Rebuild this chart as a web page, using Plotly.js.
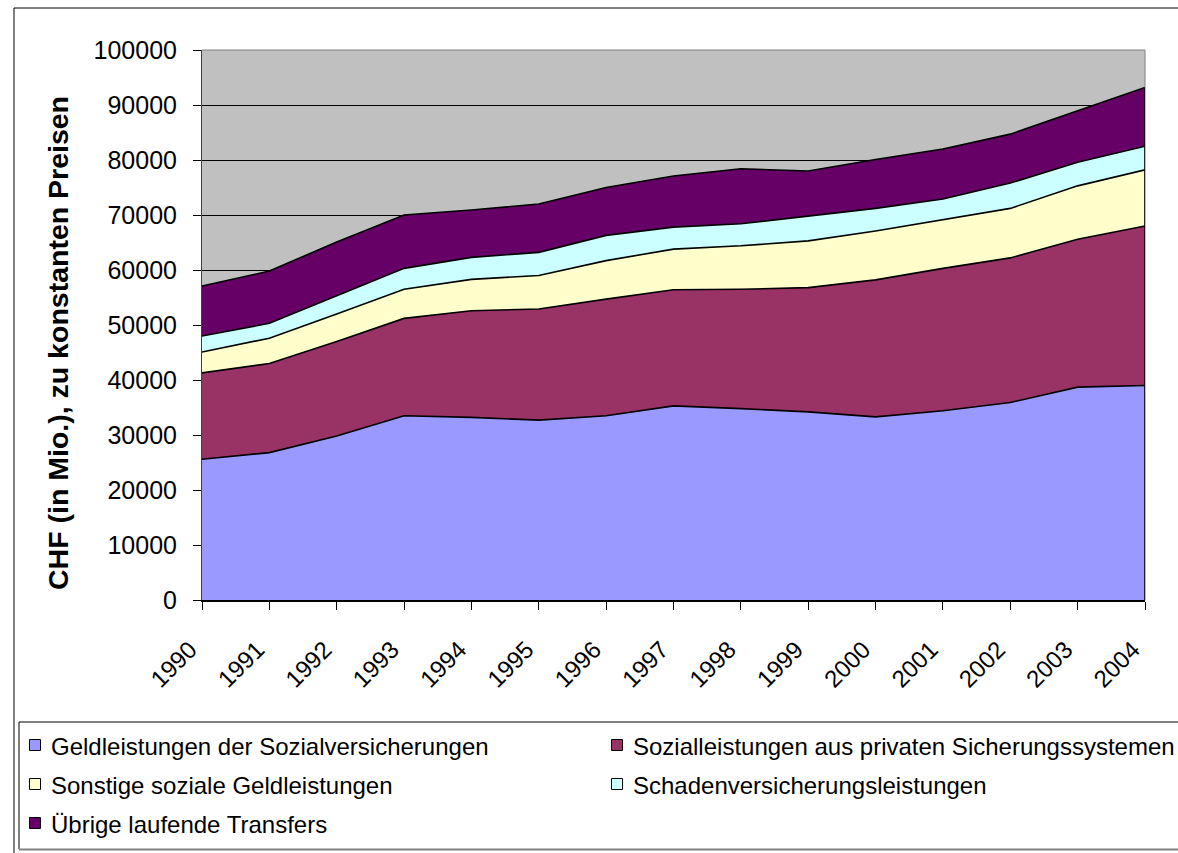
<!DOCTYPE html>
<html>
<head>
<meta charset="utf-8">
<script src="https://cdn.plot.ly/plotly-3.0.1.min.js"></script>
<style>
  html, body { margin: 0; padding: 0; background: #ffffff; overflow: hidden; }
  #chart { width: 1178px; height: 853px; }
</style>
</head>
<body>
<div id="chart"></div>
<script>
// ---- data (CHF Mio.) ----
var years = [1990, 1991, 1992, 1993, 1994, 1995, 1996, 1997, 1998, 1999, 2000, 2001, 2002, 2003, 2004];
var geldleistungen = [25600, 26800, 29800, 33500, 33200, 32700, 33500, 35300, 34800, 34200, 33300, 34400, 35900, 38700, 39000];
var privateSicherung = [15700, 16200, 17200, 17700, 19400, 20200, 21200, 21100, 21700, 22600, 24900, 25900, 26300, 26900, 29000];
var sonstige = [3800, 4600, 5000, 5300, 5700, 6100, 7000, 7400, 7900, 8500, 8900, 8900, 9000, 9700, 10200];
var schaden = [2900, 2700, 3300, 3800, 4000, 4200, 4600, 4000, 4000, 4500, 4100, 3700, 4600, 4300, 4300];
var uebrige = [9100, 9500, 9800, 9700, 8600, 8800, 8700, 9300, 10000, 8200, 8900, 9100, 8900, 9400, 10700];

var seriesNames = [
  "Geldleistungen der Sozialversicherungen",
  "Sozialleistungen aus privaten Sicherungssystemen",
  "Sonstige soziale Geldleistungen",
  "Schadenversicherungsleistungen",
  "Übrige laufende Transfers"
];
var seriesValues = [geldleistungen, privateSicherung, sonstige, schaden, uebrige];
var seriesColors = ["#9999FF", "#993366", "#FFFFCC", "#CCFFFF", "#660066"];
var yTickVals = [0, 10000, 20000, 30000, 40000, 50000, 60000, 70000, 80000, 90000, 100000];
var yTitle = "CHF (in Mio.), zu konstanten Preisen";

var FONT = "Liberation Sans, Arial, Helvetica, sans-serif";

// plot area in pixels
var W = 1178, H = 853;
var L = 202, R = 1145, T = 50, B = 600;
function px(x) { return (x - L) / (R - L); }
function py(y) { return (B - y) / (B - T); }

var traces = [];
// filled stacked areas (no outline)
for (var i = 0; i < seriesValues.length; i++) {
  traces.push({
    type: "scatter", mode: "lines", x: years, y: seriesValues[i],
    stackgroup: "fill", fill: "tonexty", fillcolor: seriesColors[i],
    line: { width: 0, color: seriesColors[i] },
    name: seriesNames[i], showlegend: false, hoverinfo: "skip"
  });
}
// black outlines on top of the fills
for (var j = 0; j < seriesValues.length; j++) {
  traces.push({
    type: "scatter", mode: "lines", x: years, y: seriesValues[j],
    stackgroup: "outline", fill: "none",
    line: { width: 1.6, color: "#000000" },
    name: seriesNames[j], showlegend: false,
    hovertemplate: "%{x}: %{y}<extra>" + seriesNames[j] + "</extra>"
  });
}

var lastIdx = years.length - 1;
var lastTotal = 0;
for (var m = 0; m < seriesValues.length; m++) { lastTotal += seriesValues[m][lastIdx]; }

function pline(x0, y0, x1, y1, color, width) {
  return { type: "line", xref: "paper", yref: "paper",
    x0: px(x0), x1: px(x1), y0: py(y0), y1: py(y1),
    line: { color: color, width: width }, layer: "above" };
}

var shapes = [
  // outer chart frame (top and left edges; it runs off the picture to the right and bottom)
  pline(14, 8, 1178, 8, "#000000", 1),
  pline(14, 8, 14, 853, "#000000", 1),
  // legend box (top, left, shaded bottom)
  pline(19, 722, 1178, 722, "#000000", 1),
  pline(19, 722, 19, 849, "#000000", 1),
  pline(19, 849.5, 1178, 849.5, "#808080", 2),
  // plot-area frame top and right
  { type: "line", xref: "paper", yref: "paper", x0: 0, x1: 1, y0: 1, y1: 1,
    line: { color: "#808080", width: 1 }, layer: "above" },
  { type: "line", xref: "paper", yref: "paper", x0: 1, x1: 1, y0: 0, y1: 1,
    line: { color: "#808080", width: 1 }, layer: "above" },
  // right edge outline of the stacked areas
  { type: "line", xref: "x", yref: "y", x0: years[lastIdx], x1: years[lastIdx], y0: 0, y1: lastTotal,
    line: { color: "#000000", width: 1.6 }, layer: "above" }
];

var annotations = [{
  text: "<b>" + yTitle + "</b>",
  xref: "paper", yref: "paper", x: px(58), y: py(343),
  xanchor: "center", yanchor: "middle", textangle: -90, showarrow: false,
  font: { family: FONT, size: 28.5, color: "#000000" }
}];

// legend: two columns, swatch + label
var legendCol = [0, 1, 0, 1, 0];
var legendRow = [0, 0, 1, 1, 2];
var colSwatchX = [35, 617];
var rowY = [745, 784, 823];
var sw = 11;
for (var n = 0; n < seriesNames.length; n++) {
  var cx = colSwatchX[legendCol[n]], cy = rowY[legendRow[n]];
  shapes.push({
    type: "rect", xref: "paper", yref: "paper",
    x0: px(cx - sw / 2), x1: px(cx + sw / 2), y0: py(cy + sw / 2), y1: py(cy - sw / 2),
    fillcolor: seriesColors[n], line: { color: "#000000", width: 1 }, layer: "above"
  });
  annotations.push({
    text: seriesNames[n], xref: "paper", yref: "paper",
    x: px(cx + 14), y: py(cy + 1), xanchor: "left", yanchor: "middle", showarrow: false,
    font: { family: FONT, size: 24, color: "#000000" }
  });
}

var layout = {
  width: W, height: H,
  margin: { l: L, r: W - R, t: T, b: H - B, pad: 0 },
  paper_bgcolor: "#ffffff",
  plot_bgcolor: "#C0C0C0",
  font: { family: FONT, size: 24, color: "#000000" },
  showlegend: false,
  xaxis: {
    type: "linear", range: [years[0], years[lastIdx]],
    tickmode: "array", tickvals: years, ticktext: years.map(String),
    tickangle: -45, tickfont: { family: FONT, size: 24, color: "#000000" },
    ticks: "outside", ticklen: 8, tickcolor: "#000000", tickwidth: 1,
    ticklabelstandoff: 16, ticklabelshift: -12,
    showgrid: false, zeroline: false,
    showline: true, linecolor: "#000000", linewidth: 2,
    fixedrange: true
  },
  yaxis: {
    range: [0, 100000], tickmode: "array", tickvals: yTickVals,
    ticktext: yTickVals.map(String),
    tickfont: { family: FONT, size: 25, color: "#000000" },
    ticks: "outside", ticklen: 8, tickcolor: "#000000", tickwidth: 1,
    ticklabelstandoff: 11,
    showgrid: true, gridcolor: "#000000", gridwidth: 1,
    zeroline: false, showline: true, linecolor: "#404040", linewidth: 1,
    fixedrange: true
  },
  annotations: annotations,
  shapes: shapes
};

Plotly.newPlot("chart", traces, layout, { displayModeBar: false, staticPlot: true });
</script>
</body>
</html>
